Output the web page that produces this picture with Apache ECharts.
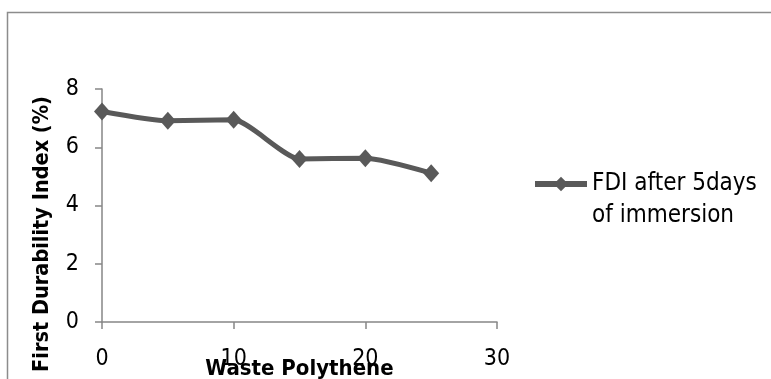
<!DOCTYPE html>
<html>
<head>
<meta charset="utf-8">
<script src="https://cdn.jsdelivr.net/npm/echarts@6/dist/echarts.min.js"></script>
<style>
html,body{margin:0;padding:0;background:#fff;}
#c{width:771px;height:379px;}
</style>
</head>
<body>
<div id="c"></div>
<script>
const xValues = [0, 5, 10, 15, 20, 25];
const fdiValues = [7.23, 6.91, 6.94, 5.60, 5.62, 5.11];
const seriesName = 'FDI after 5days\nof immersion';
const xAxisTitle = 'Waste Polythene';
const yAxisTitle = 'First Durability Index (%)';

const FONT = '"Liberation Sans Narrow", "DejaVu Sans Condensed", "Liberation Sans", sans-serif';
const chart = echarts.init(document.getElementById('c'), null, {renderer: 'canvas'});
chart.setOption({
  animation: false,
  backgroundColor: '#ffffff',
  grid: {left: 102, top: 89, width: 395, height: 233, containLabel: false, outerBoundsMode: 'none'},
  xAxis: {
    type: 'value', min: 0, max: 30, interval: 10,
    name: xAxisTitle, nameLocation: 'middle', nameGap: 36, nameMoveOverlap: false,
    nameTextStyle: {fontFamily: FONT, fontWeight: 'bold', fontSize: 22, color: '#000'},
    axisLine: {show: true, onZero: false, lineStyle: {color: '#868686', width: 1.5}},
    axisTick: {show: true, inside: false, length: 7, lineStyle: {color: '#868686', width: 1.5}},
    axisLabel: {fontFamily: FONT, fontSize: 23, color: '#000', margin: 26},
    splitLine: {show: false}
  },
  yAxis: {
    type: 'value', min: 0, max: 8, interval: 2,
    axisLine: {show: true, lineStyle: {color: '#868686', width: 1.5}},
    axisTick: {show: true, inside: false, length: 7, lineStyle: {color: '#868686', width: 1.5}},
    axisLabel: {fontFamily: FONT, fontSize: 23, color: '#000', margin: 23},
    splitLine: {show: false}
  },
  legend: {
    show: true, orient: 'vertical', left: 532, top: 135, padding: 0,
    itemWidth: 52, itemHeight: 18, itemGap: 6,
    lineStyle: {width: 6},
    formatter: name => '\n' + name,
    textStyle: {fontFamily: FONT, fontSize: 24, color: '#000', lineHeight: 32, padding: [2, 0, 0, 0]},
    data: [{name: seriesName}]
  },
  graphic: [
    {type: 'rect', silent: true, shape: {x: 7.5, y: 12.5, width: 800, height: 400},
     style: {fill: null, stroke: '#8c8c8c', lineWidth: 1.5}},
    {type: 'text', silent: true, x: 42, y: 234, rotation: Math.PI / 2,
     style: {text: yAxisTitle, fontFamily: FONT, fontWeight: 'bold', fontSize: 21.5, fill: '#000',
             align: 'center', verticalAlign: 'middle'}}
  ],
  series: [{
    type: 'line', name: seriesName,
    data: xValues.map((x, i) => [x, fdiValues[i]]),
    smooth: 0.2,
    symbol: 'diamond', symbolSize: [16, 18],
    itemStyle: {color: '#595959'},
    lineStyle: {color: '#595959', width: 5}
  }]
});
</script>
</body>
</html>
